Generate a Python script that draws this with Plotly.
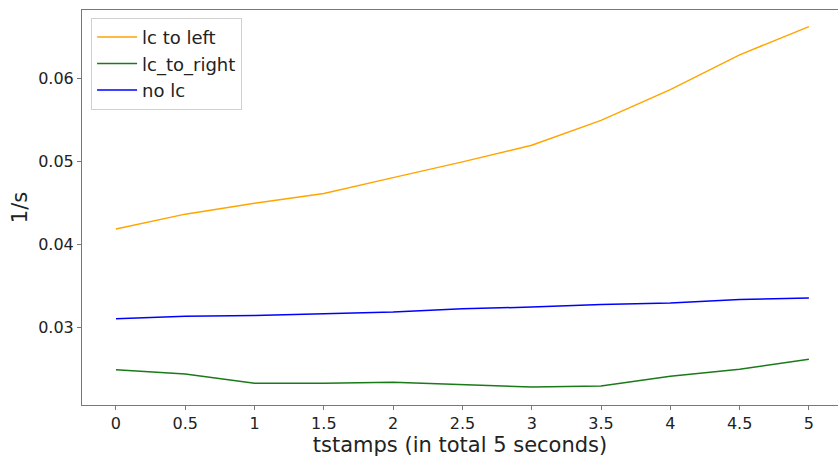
import plotly.graph_objects as go

tstamps = [0, 0.5, 1, 1.5, 2, 2.5, 3, 3.5, 4, 4.5, 5]
lc_to_left = [0.0418, 0.0436, 0.0449, 0.0461, 0.0480, 0.0499, 0.0519, 0.0549, 0.0586, 0.0628, 0.0662]
lc_to_right = [0.02486, 0.02434, 0.02322, 0.02322, 0.02334, 0.0231, 0.02277, 0.02289, 0.02406, 0.0249, 0.0261]
no_lc = [0.0310, 0.0313, 0.0314, 0.0316, 0.0318, 0.0322, 0.0324, 0.0327, 0.0329, 0.0333, 0.0335]
x_ticks = [0, 0.5, 1, 1.5, 2, 2.5, 3, 3.5, 4, 4.5, 5]
x_tick_labels = ["0", "0.5", "1", "1.5", "2", "2.5", "3", "3.5", "4", "4.5", "5"]
y_ticks = [0.03, 0.04, 0.05, 0.06]
y_tick_labels = ["0.03", "0.04", "0.05", "0.06"]

fig = go.Figure()
fig.add_trace(go.Scatter(x=tstamps, y=lc_to_left, mode="lines", name="lc to left",
                         line=dict(color="#FFA500", width=1.5)))
fig.add_trace(go.Scatter(x=tstamps, y=lc_to_right, mode="lines", name="lc_to_right",
                         line=dict(color="#1a7a1a", width=1.5)))
fig.add_trace(go.Scatter(x=tstamps, y=no_lc, mode="lines", name="no lc",
                         line=dict(color="#0000FF", width=1.5)))

font_family = "DejaVu Sans"
fig.update_layout(
    width=838, height=459,
    margin=dict(l=82, r=0, t=10, b=54),
    paper_bgcolor="white", plot_bgcolor="white",
    font=dict(family=font_family, size=16, color="#222"),
    showlegend=True,
    legend=dict(x=0.012, y=0.98, xanchor="left", yanchor="top",
                bgcolor="rgba(255,255,255,0.8)", bordercolor="#d0d0d0", borderwidth=1,
                font=dict(family=font_family, size=18, color="#222"),
                itemwidth=40, tracegroupgap=0),
    xaxis=dict(range=[-0.245, 5.21], tickvals=x_ticks, ticktext=x_tick_labels,
               showgrid=False, zeroline=False, showline=True, linecolor="#777", linewidth=1,
               mirror=True, ticks="outside", ticklen=4, tickcolor="#777",
               title=dict(text="tstamps (in total 5 seconds)", font=dict(size=21, family=font_family, color="#222"), standoff=2),
               tickfont=dict(size=16, family=font_family, color="#222")),
    yaxis=dict(range=[0.0206, 0.0682], tickvals=y_ticks, ticktext=y_tick_labels,
               showgrid=False, zeroline=False, showline=True, linecolor="#777", linewidth=1,
               ticks="outside", ticklen=4, tickcolor="#777",
               title=dict(text="1/s", font=dict(size=21, family=font_family, color="#222"), standoff=4),
               tickfont=dict(size=16, family=font_family, color="#222")),
)

fig.write_html("out.html")
